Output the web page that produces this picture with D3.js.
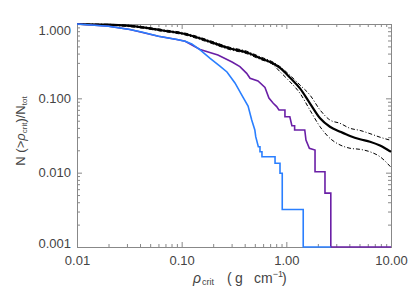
<!DOCTYPE html>
<meta charset="utf-8">
<style>
    body { margin: 0; background: #fff; }
    text { font-family: "Liberation Sans", Arial, sans-serif; fill: #444; }
    .axis path, .axis line { stroke: #888; }
</style>

<body>
    <svg width="415" height="297"></svg>
    <script src="https://d3js.org/d3.v7.min.js"></script>
    <script>
        // median of the black family with its dash-dot envelope
        var rhoMed = [0.01, 0.02, 0.042, 0.066, 0.108, 0.167, 0.29, 0.42, 0.56, 0.75, 0.87, 1.08, 1.35, 1.68, 2.1, 2.61, 3.26, 4.06, 5.06, 6.3, 7.85, 10];
        var nMed = [1.0, 0.978, 0.903, 0.818, 0.733, 0.609, 0.468, 0.414, 0.349, 0.294, 0.256, 0.191, 0.136, 0.0857, 0.0539, 0.0415, 0.0356, 0.0311, 0.0281, 0.0261, 0.0232, 0.019];
        var nUp = [1.0, 0.99, 0.925, 0.84, 0.755, 0.63, 0.485, 0.43, 0.363, 0.306, 0.267, 0.205, 0.151, 0.111, 0.0697, 0.0511, 0.0461, 0.0395, 0.037, 0.0335, 0.030, 0.0272];
        var nLo = [0.99, 0.965, 0.88, 0.795, 0.71, 0.588, 0.451, 0.398, 0.335, 0.282, 0.228, 0.168, 0.117, 0.0697, 0.0415, 0.029, 0.0236, 0.0213, 0.0206, 0.0191, 0.0164, 0.0118];

        // blue sample (drops to zero -> drawn on the bottom axis)
        var blueRho = [0.01, 0.02, 0.032, 0.0415, 0.06, 0.09, 0.108, 0.125, 0.15, 0.187, 0.232, 0.271, 0.323, 0.385, 0.431, 0.467, 0.50, 0.51, 0.54, 0.56, 0.56, 0.585, 0.585, 0.78, 0.78, 0.87, 0.87, 0.914, 0.914, 1.45, 1.45, 2.66];
        var blueN = [1.0, 0.931, 0.843, 0.781, 0.683, 0.62, 0.585, 0.54, 0.45, 0.345, 0.272, 0.226, 0.161, 0.104, 0.0788, 0.0511, 0.0375, 0.0305, 0.0223, 0.0223, 0.0191, 0.0191, 0.0164, 0.0164, 0.0134, 0.0134, 0.0098, 0.0098, 0.0032, 0.0032, 0.001, 0.001];

        // purple sample
        var purpleRho = [0.01, 0.02, 0.032, 0.06, 0.09, 0.108, 0.15, 0.222, 0.303, 0.36, 0.418, 0.45, 0.536, 0.625, 0.682, 0.75, 0.809, 0.85, 0.97, 0.97, 1.08, 1.13, 1.2, 1.2, 1.5, 1.54, 1.66, 1.88, 1.88, 2.34, 2.34, 2.66, 2.66, 10];
        var purpleN = [1.0, 0.931, 0.843, 0.683, 0.62, 0.585, 0.455, 0.383, 0.308, 0.267, 0.217, 0.186, 0.171, 0.140, 0.101, 0.0857, 0.0775, 0.0697, 0.0697, 0.0566, 0.0566, 0.0428, 0.0428, 0.0375, 0.0375, 0.0275, 0.0213, 0.0202, 0.0103, 0.0103, 0.0053, 0.0053, 0.001, 0.001];

        var xMajor = [0.01, 0.1, 1, 10],
            xLabels = ["0.01", "0.10", "1.00", "10.00"];
        var yMajor = [0.001, 0.01, 0.1, 1],
            yLabels = ["0.001", "0.010", "0.100", "1.000"];

        var svg = d3.select("svg"),
            margin = { top: 24, right: 24, bottom: 50, left: 77 },
            width = +svg.attr("width") - margin.left - margin.right,
            height = +svg.attr("height") - margin.top - margin.bottom;

        var x = d3.scaleLog().domain([0.01, 10]).range([0, width]),
            y = d3.scaleLog().domain([0.001, 1]).range([height, 0]).clamp(true);

        var g = svg.append("g")
            .attr("transform", "translate(" + margin.left + "," + margin.top + ")");

        function minors(dom) {
            var out = [];
            for (var p = dom[0]; p < dom[1] - 1e-9; p *= 10)
                for (var k = 2; k <= 9; k++) out.push(p * k);
            return out;
        }
        var xMinor = minors(x.domain()), yMinor = minors(y.domain());

        function fmt(ticks, labels) {
            return function (d) { return labels[ticks.indexOf(d)]; };
        }

        // minor ticks (all four sides, pointing inward)
        g.append("g").attr("class", "axis").attr("transform", "translate(0," + height + ")")
            .call(d3.axisBottom(x).tickValues(xMinor).tickSize(-3).tickFormat(""));
        g.append("g").attr("class", "axis")
            .call(d3.axisTop(x).tickValues(xMinor).tickSize(-3).tickFormat(""));
        g.append("g").attr("class", "axis")
            .call(d3.axisLeft(y).tickValues(yMinor).tickSize(-3).tickFormat(""));
        g.append("g").attr("class", "axis").attr("transform", "translate(" + width + ",0)")
            .call(d3.axisRight(y).tickValues(yMinor).tickSize(-3).tickFormat(""));

        // major ticks with labels
        g.append("g").attr("class", "axis").attr("transform", "translate(0," + height + ")")
            .call(d3.axisBottom(x).tickValues(xMajor).tickSize(-5).tickPadding(9).tickFormat(fmt(xMajor, xLabels)));
        g.append("g").attr("class", "axis")
            .call(d3.axisTop(x).tickValues(xMajor).tickSize(-5).tickFormat(""));
        var yAx = g.append("g").attr("class", "axis")
            .call(d3.axisLeft(y).tickValues(yMajor).tickSize(-5).tickPadding(6).tickFormat(fmt(yMajor, yLabels)));
        g.append("g").attr("class", "axis").attr("transform", "translate(" + width + ",0)")
            .call(d3.axisRight(y).tickValues(yMajor).tickSize(-5).tickFormat(""));

        g.selectAll(".axis text").attr("font-size", 13).attr("fill", "#444")
            .attr("font-family", "Liberation Sans, Arial, sans-serif");
        // end labels are pulled inside the frame
        yAx.selectAll(".tick text").attr("dy", function (d) {
            if (d === 1) return "0.8em";
            if (d === 0.001) return "0em";
            return "0.32em";
        });

        // curves
        var line = d3.line()
            .x(function (d) { return x(d[0]); })
            .y(function (d) { return y(d[1]); });

        function pairs(a, b) { return a.map(function (v, i) { return [v, b[i]]; }); }

        g.append("path").datum(pairs(rhoMed, nUp))
            .attr("d", line.curve(d3.curveMonotoneX))
            .attr("fill", "none").attr("stroke", "#000").attr("stroke-width", 1)
            .attr("stroke-dasharray", "4,2,1,2");
        g.append("path").datum(pairs(rhoMed, nLo))
            .attr("d", line.curve(d3.curveMonotoneX))
            .attr("fill", "none").attr("stroke", "#000").attr("stroke-width", 1)
            .attr("stroke-dasharray", "4,2,1,2");
        g.append("path").datum(pairs(rhoMed, nMed))
            .attr("d", line.curve(d3.curveMonotoneX))
            .attr("fill", "none").attr("stroke", "#000").attr("stroke-width", 2.2);

        g.append("path").datum(pairs(purpleRho, purpleN))
            .attr("d", line.curve(d3.curveLinear))
            .attr("fill", "none").attr("stroke", "#6a1fa6").attr("stroke-width", 1.6);
        g.append("path").datum(pairs(blueRho, blueN))
            .attr("d", line.curve(d3.curveLinear))
            .attr("fill", "none").attr("stroke", "#2a7fff").attr("stroke-width", 1.6);

        // axis titles
        var xt = svg.append("text")
            .attr("x", 193).attr("y", 283)
            .attr("font-size", 14);
        xt.append("tspan").attr("font-style", "italic").text("ρ");
        xt.append("tspan").attr("font-size", 9).attr("dy", 2).attr("dx", 1).text("crit");
        xt.append("tspan").attr("x", 227).attr("dy", -2).text("(");
        xt.append("tspan").attr("x", 235).text("g");
        xt.append("tspan").attr("x", 254).text("cm");
        xt.append("tspan").attr("font-size", 9).attr("dy", -6).text("−1");
        xt.append("tspan").attr("x", 282).attr("dy", 6).text(")");

        var yt = svg.append("text")
            .attr("transform", "translate(25,131) rotate(-90)")
            .attr("text-anchor", "middle")
            .attr("font-size", 13);
        yt.append("tspan").text("N (>");
        yt.append("tspan").attr("font-style", "italic").text("ρ");
        yt.append("tspan").attr("font-size", 8).attr("dy", 2).text("crit");
        yt.append("tspan").attr("dy", -2).text(")/N");
        yt.append("tspan").attr("font-size", 8).attr("dy", 2).text("tot");
    </script>
</body>
